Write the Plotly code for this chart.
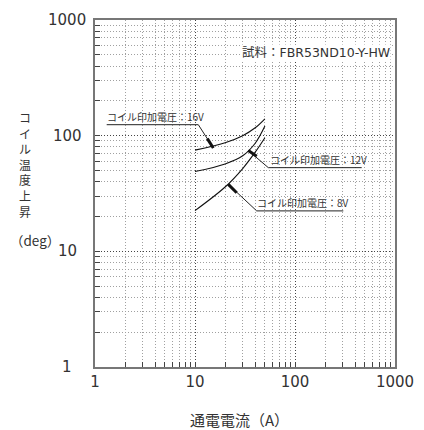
import math
import plotly.graph_objects as go

# ---- data ----
current_a = [10, 20, 30, 40, 50]
temp_rise_16v = [75, 87, 100, 117, 140]
temp_rise_12v = [49, 57, 67, 86, 121]
temp_rise_8v = [22.5, 36, 52, 72, 96]
series_names = ["コイル印加電圧：16V", "コイル印加電圧：12V", "コイル印加電圧：8V"]
x_ticks = [1, 10, 100, 1000]
y_ticks = [1, 10, 100, 1000]
sample_label = "試料：FBR53ND10-Y-HW"
x_title = "通電電流（A）"
y_title_chars = list("コイル温度上昇")
y_title_unit = "（deg）"

OFF = 8  # page body margin
W, H = 424 - OFF, 430 - OFF
L, R, T, B = 95 - OFF, 29, 18 - OFF, 63
PW, PH = W - L - R, H - T - B


def px(X):
    return (X - OFF - L) / PW


def py(Y):
    return (H - B - (Y - OFF)) / PH


JP = "DejaVu Sans, Noto Sans CJK JP"
fig = go.Figure()
for ys in (temp_rise_16v, temp_rise_12v, temp_rise_8v):
    fig.add_trace(go.Scatter(x=current_a, y=ys, mode="lines", line=dict(color="#111", width=1.1, shape="spline"),
                             showlegend=False, hoverinfo="skip"))

axis_common = dict(type="log", range=[0, 3], showline=True, linecolor="#777", linewidth=1.5, mirror=True,
                   ticks="inside", ticklen=5, tickcolor="#444", showgrid=True, gridcolor="#444",
                   griddash="1px,2px", gridwidth=1, zeroline=False,
                   minor=dict(ticks="inside", ticklen=5, tickcolor="#444", showgrid=True,
                              gridcolor="#a0a0a0", griddash="1px,2px", gridwidth=1, dtick="D1"))
fig.update_xaxes(**axis_common, tickvals=x_ticks, ticktext=[str(v) for v in x_ticks],
                 tickfont=dict(family="DejaVu Sans", size=15, color="#333"))
fig.update_yaxes(**axis_common, tickvals=y_ticks, showticklabels=False)

ann = []
# y tick labels, centered
for v in y_ticks:
    ann.append(dict(x=px(67), xref="paper", y=math.log10(v), yref="y", text=str(v), showarrow=False,
                    xanchor="center", yanchor="middle", font=dict(family="DejaVu Sans", size=15, color="#333")))
# y title stacked vertically
ann.append(dict(x=px(25), y=py(163.5), xref="paper", yref="paper", text="<br>".join(y_title_chars),
                showarrow=False, xanchor="center", yanchor="middle", borderpad=0,
                font=dict(family="Noto Sans CJK JP", size=12, color="#333")))
ann.append(dict(x=px(9), y=py(239), xref="paper", yref="paper", text=y_title_unit, showarrow=False,
                xanchor="left", yanchor="middle", borderpad=0,
                font=dict(family="Noto Sans CJK JP", size=13.5, color="#333")))
# x title
ann.append(dict(x=px(239), y=py(420), xref="paper", yref="paper", text=x_title, showarrow=False,
                xanchor="center", yanchor="middle", borderpad=0,
                font=dict(family="Noto Sans CJK JP", size=15, color="#333")))
# sample label
ann.append(dict(x=px(391), y=py(51), xref="paper", yref="paper", text=sample_label, showarrow=False,
                xanchor="right", yanchor="middle", bgcolor="white", borderpad=0,
                font=dict(family=JP, size=12.5, color="#333")))

# series labels with leaders
labels = [
    (series_names[0], 106, 115, 123.3, 106.7, 198.3, (198.3, 123.3), (213.3, 146.7), (207.3, 137.3)),
    (series_names[1], 269, 158, 166.5, 268.3, 361.7, (268.3, 166.5), (248.3, 149.3), (256.7, 155.0)),
    (series_names[2], 256, 202, 210.0, 256.7, 343.3, (256.7, 210.0), (228.3, 183.3), (236.7, 191.7)),
]
shapes = []
for text, tx, ty, uy, ux0, ux1, (sx, sy), (ex, ey), (kx, ky) in labels:
    ann.append(dict(x=px(tx), y=py(ty), xref="paper", yref="paper", text=text, showarrow=False,
                    xanchor="left", yanchor="middle", borderpad=0,
                    font=dict(family="Noto Sans CJK JP", size=10, color="#333")))
    shapes.append(dict(type="line", xref="paper", yref="paper", x0=px(ux0), x1=px(ux1), y0=py(uy), y1=py(uy),
                       line=dict(color="#222", width=1)))
    shapes.append(dict(type="line", xref="paper", yref="paper", x0=px(sx), x1=px(ex), y0=py(sy), y1=py(ey),
                       line=dict(color="#222", width=1)))
    shapes.append(dict(type="line", xref="paper", yref="paper", x0=px(kx), x1=px(ex), y0=py(ky), y1=py(ey),
                       line=dict(color="#111", width=3)))

fig.update_layout(width=W, height=H, margin=dict(l=L, r=R, t=T, b=B), plot_bgcolor="white",
                  paper_bgcolor="white", annotations=ann, shapes=shapes, showlegend=False)
fig.write_html("out.html")
